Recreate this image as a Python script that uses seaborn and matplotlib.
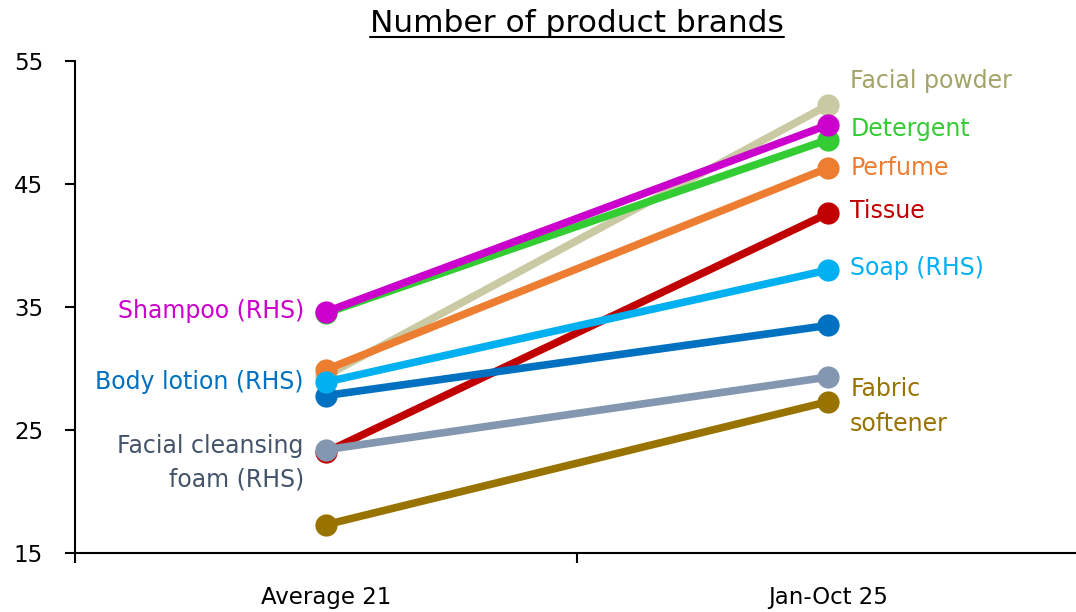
import pandas as pd
import numpy as np
import matplotlib
matplotlib.use("Agg")
import matplotlib.pyplot as plt
import seaborn as sns
from matplotlib.lines import Line2D

sns.set_style("white")
plt.rcParams['font.family'] = ['DejaVu Sans']
plt.rcParams['text.color'] = 'black'
plt.rcParams['xtick.color'] = 'black'
plt.rcParams['ytick.color'] = 'black'

# data
periods = ['Average 21', 'Jan-Oct 25']
products = ['Fabric softener', 'Tissue', 'Facial cleansing foam (RHS)', 'Body lotion (RHS)',
            'Facial powder', 'Perfume', 'Soap (RHS)', 'Detergent', 'Shampoo (RHS)']
avg21 = [17.3, 23.2, 23.4, 27.8, 29.4, 29.9, 28.9, 34.5, 34.6]
jan_oct25 = [27.3, 42.6, 29.3, 33.5, 51.4, 46.3, 38.0, 48.6, 49.8]

colors = {'Fabric softener': '#997300', 'Tissue': '#C00000',
          'Facial cleansing foam (RHS)': '#8497B0', 'Body lotion (RHS)': '#0070C0',
          'Facial powder': '#C9C9A3', 'Perfume': '#ED7D31', 'Soap (RHS)': '#00B0F0',
          'Detergent': '#33CC33', 'Shampoo (RHS)': '#CC00CC'}

df = pd.DataFrame({'product': products * 2,
                   'period': [0] * len(products) + [1] * len(products),
                   'value': avg21 + jan_oct25})

fig = plt.figure(figsize=(10.76, 6.12), dpi=100)
ax = fig.add_axes([0.0697, 0.0964, 0.933, 0.804])

sns.lineplot(data=df, x='period', y='value', hue='product', hue_order=products,
             palette=colors, marker='o', markersize=16, markeredgewidth=0,
             linewidth=5.5, legend=False, ax=ax)

ax.set_xlim(-0.5, 1.5)
ax.set_ylim(15, 55)
ax.set_yticks([15, 25, 35, 45, 55])
ax.set_xticks([0, 1])
ax.set_xticklabels(periods)
ax.set_xticks([-0.5, 0.5, 1.5], minor=True)
ax.set_xlabel('')
ax.set_ylabel('')
ax.tick_params(axis='x', which='major', length=0, labelsize=16.5, pad=24)
ax.tick_params(axis='x', which='minor', length=7, width=1.5, direction='out', bottom=True)
ax.tick_params(axis='y', length=7, width=1.5, direction='out', left=True, labelsize=16.5, pad=16)
for s in ['top', 'right']:
    ax.spines[s].set_visible(False)
for s in ['left', 'bottom']:
    ax.spines[s].set_color('black')
    ax.spines[s].set_linewidth(1.5)

# labels
right_labels = [('Facial powder', 53.4, '#A3A36A'), ('Detergent', 49.5, '#33CC33'),
                ('Perfume', 46.3, '#ED7D31'), ('Tissue', 42.8, '#C00000'),
                ('Soap (RHS)', 38.2, '#00B0F0'), ('Fabric\nsoftener', 26.9, '#997300')]
left_labels = [('Shampoo (RHS)', 34.7, '#CC00CC'), ('Body lotion (RHS)', 28.9, '#0070C0'),
               ('Facial cleansing\nfoam (RHS)', 22.3, '#44546A')]
for txt, y, c in right_labels:
    ax.annotate(txt, xy=(1, y), xytext=(16, 0), textcoords='offset points',
                ha='left', va='center', color=c, fontsize=17, linespacing=1.55)
for txt, y, c in left_labels:
    ax.annotate(txt, xy=(0, y), xytext=(-16, 0), textcoords='offset points',
                ha='right', va='center', color=c, fontsize=17, linespacing=1.5,
                multialignment='right')

# underlined title
title = fig.text(0.536, 0.962, 'Number of product brands', ha='center', va='center',
                 fontsize=22.5, color='black')
fig.canvas.draw()
bb = title.get_window_extent().transformed(fig.transFigure.inverted())
fig.add_artist(Line2D([bb.x0, bb.x1], [bb.y0 + 0.002, bb.y0 + 0.002],
                      transform=fig.transFigure, color='black', linewidth=1.5))

fig.savefig('out.png', dpi=100)
